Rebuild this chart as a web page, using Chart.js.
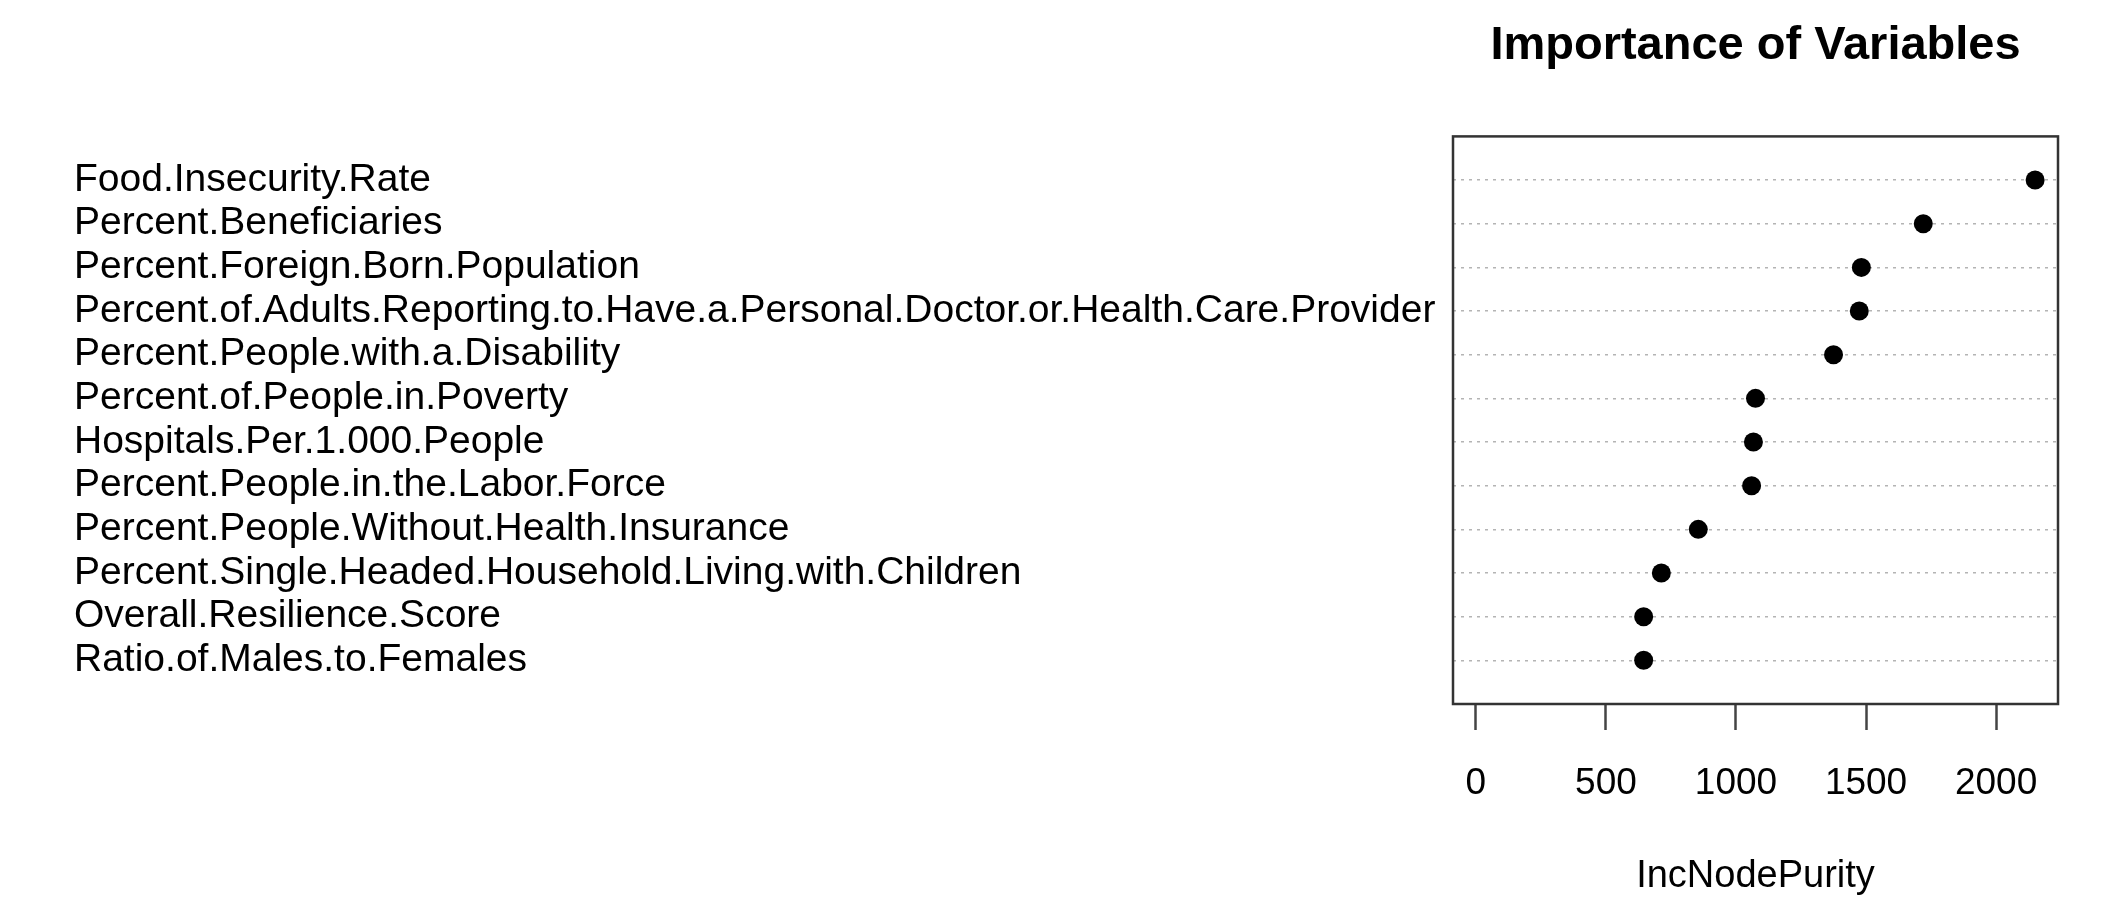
<!DOCTYPE html>
<html>
<head>
<meta charset="utf-8">
<script src="https://cdn.jsdelivr.net/npm/chart.js@4/dist/chart.umd.min.js"></script>
<style>
  html, body { margin: 0; padding: 0; background: #fff; }
  #wrap { width: 2120px; height: 904px; }
</style>
</head>
<body>
<div id="wrap"><canvas id="c" width="2120" height="904"></canvas></div>
<script>
const variables = [
  "Food.Insecurity.Rate",
  "Percent.Beneficiaries",
  "Percent.Foreign.Born.Population",
  "Percent.of.Adults.Reporting.to.Have.a.Personal.Doctor.or.Health.Care.Provider",
  "Percent.People.with.a.Disability",
  "Percent.of.People.in.Poverty",
  "Hospitals.Per.1.000.People",
  "Percent.People.in.the.Labor.Force",
  "Percent.People.Without.Health.Insurance",
  "Percent.Single.Headed.Household.Living.with.Children",
  "Overall.Resilience.Score",
  "Ratio.of.Males.to.Females"
];
const incNodePurity = [2150, 1720, 1482, 1474, 1375, 1075, 1067, 1060, 855, 713, 645, 645];
const xTickValues = [0, 500, 1000, 1500, 2000];
const chartTitle = "Importance of Variables";
const xAxisTitle = "IncNodePurity";

const n = variables.length;
const FONT = "'Liberation Sans', Arial, sans-serif";

const boxPlugin = {
  id: 'box',
  afterDatasetsDraw(chart) {
    const a = chart.chartArea, ctx = chart.ctx;
    ctx.save();
    ctx.strokeStyle = '#333';
    ctx.lineWidth = 2.5;
    ctx.strokeRect(a.left, a.top, a.right - a.left, a.bottom - a.top);
    ctx.restore();
  }
};

new Chart(document.getElementById('c'), {
  type: 'scatter',
  data: {
    datasets: [{
      data: incNodePurity.map((v, i) => ({ x: v, y: n - i })),
      pointRadius: 9.5,
      pointHoverRadius: 9.5,
      pointBackgroundColor: '#000',
      pointBorderColor: '#000',
      pointBorderWidth: 0
    }]
  },
  options: {
    responsive: false,
    animation: false,
    events: [],
    layout: { padding: { left: 74, right: 62, top: 0, bottom: 0 } },
    plugins: {
      legend: { display: false },
      tooltip: { enabled: false },
      title: {
        display: true,
        text: chartTitle,
        fullSize: false,
        color: '#000',
        font: { family: FONT, size: 47, weight: 'bold', lineHeight: 1.2 },
        padding: { top: 18, bottom: 62 }
      }
    },
    scales: {
      x: {
        type: 'linear',
        min: -88,
        max: 2238,
        afterBuildTicks: s => { s.ticks = xTickValues.map(v => ({ value: v })); },
        afterFit: s => { s.height = 200; },
        border: { display: false },
        grid: {
          display: true,
          drawOnChartArea: false,
          drawTicks: true,
          tickLength: 26,
          tickWidth: 2.5,
          tickColor: '#444'
        },
        ticks: {
          color: '#000',
          padding: 32,
          maxRotation: 0,
          autoSkip: false,
          font: { family: FONT, size: 37, lineHeight: 1.2 },
          callback: v => String(v)
        },
        title: {
          display: true,
          text: xAxisTitle,
          color: '#000',
          font: { family: FONT, size: 38, lineHeight: 1.2 },
          padding: { top: 47, bottom: 5 }
        }
      },
      y: {
        type: 'linear',
        min: 0,
        max: n + 1,
        afterBuildTicks: s => { s.ticks = variables.map((_, i) => ({ value: n - i })); },
        afterFit: s => { s.width = 1453 - 74; },
        border: { display: false, dash: [3, 5] },
        grid: {
          display: true,
          drawOnChartArea: true,
          drawTicks: false,
          color: '#b4b4b4',
          lineWidth: 1.5
        },
        ticks: {
          crossAlign: 'far',
          color: '#000',
          autoSkip: false,
          font: { family: FONT, size: 39, lineHeight: 1.2 },
          callback: v => variables[n - v] || ''
        }
      }
    }
  },
  plugins: [boxPlugin]
});
</script>
</body>
</html>
